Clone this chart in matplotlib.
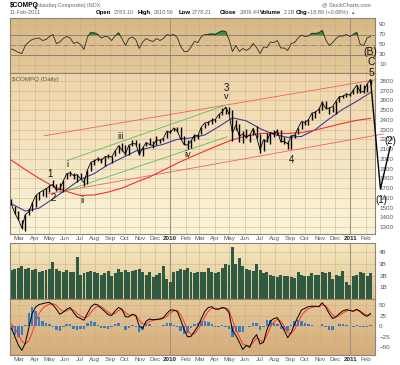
import numpy as np
import pandas as pd
import matplotlib
matplotlib.use("Agg")
import matplotlib.pyplot as plt
import matplotlib.dates as mdates
from matplotlib.colors import LinearSegmentedColormap

plt.rcParams["font.family"] = ["Liberation Sans", "DejaVu Sans"]

# weekly samples, Fridays from 13-Feb-2009 to 11-Feb-2011
weeks = pd.date_range("2009-02-13", periods=105, freq="7D")

closes = [1534, 1441, 1377, 1293, 1431, 1457, 1545, 1622, 1652, 1673, 1694, 1719, 1739, 1680, 1692,
          1774, 1849, 1858, 1827, 1838, 1797, 1756, 1886, 1966, 1979, 2000, 1985, 2020, 2028, 2018,
          2080, 2132, 2090, 2048, 2140, 2156, 2154, 2045, 2112, 2167, 2147, 2138, 2194, 2190, 2212,
          2285, 2269, 2317, 2288, 2205, 2147, 2142, 2184, 2243, 2238, 2327, 2368, 2374, 2395, 2402,
          2454, 2481, 2530, 2461, 2265, 2347, 2229, 2257, 2219, 2244, 2310, 2224, 2092, 2196, 2179,
          2269, 2255, 2288, 2174, 2180, 2153, 2234, 2242, 2316, 2382, 2371, 2402, 2469, 2479, 2507,
          2578, 2519, 2519, 2535, 2592, 2637, 2642, 2665, 2653, 2704, 2755, 2689, 2687, 2769, 2809]
highs = [1590, 1520, 1470, 1377, 1435, 1500, 1560, 1625, 1660, 1680, 1700, 1730, 1785, 1740, 1750,
         1780, 1855, 1877, 1860, 1845, 1860, 1800, 1890, 1970, 2000, 2020, 2010, 2025, 2050, 2030,
         2090, 2140, 2165, 2145, 2145, 2190, 2190, 2160, 2120, 2175, 2210, 2185, 2230, 2200, 2215,
         2285, 2295, 2320, 2325, 2326, 2230, 2195, 2190, 2250, 2250, 2330, 2370, 2390, 2420, 2410,
         2455, 2520, 2535, 2535, 2500, 2395, 2360, 2290, 2310, 2250, 2320, 2335, 2250, 2200, 2260,
         2275, 2300, 2305, 2300, 2220, 2185, 2240, 2250, 2320, 2385, 2400, 2405, 2470, 2490, 2520,
         2590, 2592, 2530, 2545, 2595, 2640, 2650, 2670, 2672, 2720, 2757, 2765, 2755, 2770, 2812]
lows = [1525, 1431, 1377, 1282, 1265, 1420, 1470, 1510, 1580, 1615, 1605, 1660, 1712, 1672, 1678,
        1660, 1790, 1825, 1791, 1765, 1795, 1727, 1740, 1880, 1940, 1980, 1960, 1925, 2005, 1960,
        2025, 2065, 2080, 2040, 2040, 2135, 2130, 2040, 2025, 2130, 2140, 2110, 2140, 2160, 2180,
        2215, 2265, 2290, 2280, 2200, 2140, 2100, 2115, 2185, 2200, 2250, 2320, 2345, 2360, 2380,
        2420, 2450, 2460, 2455, 2185, 2300, 2175, 2165, 2210, 2170, 2240, 2210, 2061, 2085, 2175,
        2150, 2220, 2245, 2170, 2150, 2100, 2100, 2210, 2250, 2310, 2350, 2345, 2400, 2420, 2470,
        2500, 2510, 2460, 2480, 2460, 2585, 2620, 2635, 2645, 2660, 2680, 2680, 2680, 2690, 2765]

# moving averages, every fourth week
ma_dates = weeks[::4]
ma50 = [1540, 1465, 1495, 1590, 1690, 1790, 1850, 1940, 2010, 2080, 2115, 2150, 2200, 2215,
        2245, 2330, 2420, 2390, 2310, 2250, 2220, 2230, 2300, 2410, 2510, 2590, 2680]
ma200 = [1985, 1890, 1800, 1720, 1665, 1625, 1630, 1660, 1700, 1760, 1815, 1885, 1955, 2020,
         2080, 2140, 2195, 2235, 2260, 2265, 2260, 2270, 2295, 2330, 2365, 2395, 2415]

rsi = [41, 38, 34, 32, 48, 55, 60, 62, 63, 58, 60, 66, 70, 52, 55, 62, 66, 63, 52, 55, 50, 40, 65,
       74, 73, 70, 63, 66, 65, 58, 67, 73, 62, 48, 62, 65, 60, 42, 55, 62, 58, 56, 62, 58, 62, 70,
       68, 70, 64, 46, 36, 36, 45, 56, 54, 66, 70, 70, 71, 70, 74, 77, 76, 60, 36, 48, 36, 42, 38,
       42, 52, 44, 32, 45, 44, 55, 54, 58, 43, 43, 38, 52, 54, 63, 69, 66, 67, 72, 72, 73, 78, 60,
       48, 54, 62, 67, 67, 70, 66, 70, 74, 50, 48, 63, 66]

volume = [2.5, 2.6, 2.7, 2.8, 2.6, 2.7, 2.5, 2.6, 2.3, 2.4, 2.5, 2.6, 3.2, 2.6, 2.4, 2.3, 2.5, 2.3,
          2.3, 3.6, 2.1, 2.2, 2.3, 2.4, 2.3, 2.2, 2.1, 2.2, 2.4, 2.0, 2.2, 2.6, 2.3, 2.5, 2.3, 2.4,
          2.5, 2.6, 2.3, 2.1, 2.3, 1.9, 2.1, 2.2, 2.85, 1.7, 1.5, 2.3, 2.4, 2.6, 2.5, 2.7, 2.3, 2.2,
          2.3, 2.3, 2.3, 2.7, 2.3, 2.2, 2.3, 2.7, 3.0, 2.9, 4.5, 3.0, 3.5, 2.8, 2.6, 2.5, 2.4, 3.0,
          2.5, 2.2, 2.3, 2.1, 2.0, 1.9, 2.1, 2.0, 2.0, 1.9, 1.8, 2.3, 2.1, 2.0, 2.0, 2.2, 2.1, 2.1,
          2.3, 2.2, 2.3, 1.7, 2.1, 2.0, 2.4, 1.5, 1.2, 2.0, 2.1, 2.3, 2.2, 2.0, 2.2]

macd = [-5, -25, -45, -57, -40, -5, 30, 45, 51, 53, 55, 56, 50, 40, 28, 33, 40, 44, 32, 22, 18, 14,
        30, 45, 52, 50, 42, 35, 27, 25, 36, 44, 40, 22, 22, 28, 25, 0, -5, 12, 17, 15, 16, 17, 20,
        30, 38, 38, 35, 15, -8, -25, -24, -12, 0, 18, 35, 44, 46, 40, 40, 44, 42, 32, -10, -22, -38,
        -55, -45, -50, -30, -20, -42, -38, -8, 12, 18, 20, 5, -10, -27, -15, 5, 22, 38, 42, 46, 47,
        47, 46, 55, 45, 30, 18, 22, 30, 36, 39, 37, 35, 40, 34, 27, 23, 30]
signal = [5, -5, -20, -35, -42, -35, -15, 10, 30, 42, 48, 52, 53, 49, 40, 35, 36, 40, 38, 30, 24,
          20, 22, 32, 42, 47, 46, 40, 33, 28, 30, 37, 39, 32, 26, 26, 26, 14, 5, 6, 11, 14, 15, 16,
          18, 23, 31, 36, 37, 27, 10, -10, -20, -18, -8, 6, 22, 35, 42, 42, 41, 42, 43, 38, 15, -8,
          -25, -42, -46, -47, -38, -28, -33, -37, -22, -2, 10, 16, 12, 0, -15, -18, -8, 8, 25, 35,
          41, 44, 46, 46, 50, 48, 38, 26, 22, 25, 31, 36, 37, 36, 38, 36, 30, 26, 27]
hist = np.array(macd) - np.array(signal)

# trendlines (start, end)
red_upper = (["2009-04-20", "2011-02-22"], [2236, 2812])
red_lower = (["2009-04-28", "2011-03-10"], [1642, 2256])
green_upper = (["2009-06-06", "2010-04-22"], [1984, 2548])
green_lower = (["2009-05-22", "2010-04-26"], [1652, 2226])
forecast = (["2011-02-11", "2011-03-03", "2011-03-23"], [2809, 1692, 2125])

wave_labels = [("1", "2009-05-02", 1843, 7), ("2", "2009-05-08", 1602, 7),
               ("i", "2009-06-06", 1941, 6.5), ("ii", "2009-07-06", 1571, 6.5),
               ("iii", "2009-09-23", 2226, 6.5), ("iv", "2010-02-06", 2045, 6.5),
               ("3", "2010-04-24", 2730, 7), ("v", "2010-04-25", 2640, 6.5),
               ("4", "2010-09-03", 1984, 7), ("5", "2011-02-13", 2880, 7.5),
               ("C", "2011-02-13", 2991, 7.5), ("(B)", "2011-02-11", 3092, 7.5),
               ("(2)", "2011-03-24", 2186, 7), ("(1)", "2011-03-05", 1582, 7)]

month_starts = pd.date_range("2009-03-01", "2011-02-01", freq="MS")
month_labels = [d.strftime("%Y") if d.month == 1 else d.strftime("%b") for d in month_starts]

fig = plt.figure(figsize=(4, 3.65), dpi=100)
L, W = 10 / 400, 365 / 400
ax_rsi = fig.add_axes([L, 1 - 73 / 365, W, 55 / 365])
ax_main = fig.add_axes([L, 1 - 234 / 365, W, 161 / 365])
ax_vol = fig.add_axes([L, 1 - 299 / 365, W, 56 / 365])
ax_macd = fig.add_axes([L, 1 - 355 / 365, W, 56 / 365])


def panel_bg(ax, top, bottom):
    cm = LinearSegmentedColormap.from_list("bg", [bottom, top])
    ax.imshow(np.linspace(0, 1, 64).reshape(-1, 1), cmap=cm, origin="lower", extent=[0, 1, 0, 1],
              transform=ax.transAxes, aspect="auto", zorder=0)


x0, x1 = mdates.date2num(pd.Timestamp("2009-02-10")), mdates.date2num(pd.Timestamp("2011-02-20"))
tick_col = "#555555"
for ax, (top, bottom) in zip([ax_rsi, ax_main, ax_vol, ax_macd],
                             [("#d8b887", "#e4c99a"), ("#efd5aa", "#fbf4d9"),
                              ("#f6e8c0", "#e0c594"), ("#e6c898", "#d5ad7b")]):
    panel_bg(ax, top, bottom)
    ax.set_xticks(month_starts)
    ax.set_xticklabels(month_labels)
    ax.grid(True, color="#c4ab84", lw=0.45, alpha=0.7)
    ax.set_axisbelow(True)
    ax.yaxis.tick_right()
    ax.tick_params(length=0, labelsize=4.5, labelcolor=tick_col, pad=3)
    for s in ax.spines.values():
        s.set_color("#8f8372")
        s.set_linewidth(0.8)
    for d in month_starts:
        if d.month == 1:
            ax.axvline(d, color="#a09482", lw=0.8, zorder=1)

for ax in (ax_rsi, ax_vol):
    ax.tick_params(axis="x", labelbottom=False)
for ax in (ax_main, ax_macd):
    ax.tick_params(axis="x", pad=1.5)
    for lab in ax.get_xticklabels():
        if lab.get_text().isdigit():
            lab.set_fontweight("bold")
            lab.set_color("#222222")

# RSI
ax_rsi.plot(weeks, rsi, color="#2a2a2a", lw=0.6, zorder=3)
rsi_arr = np.array(rsi)
ax_rsi.fill_between(weeks, rsi_arr, 70, where=rsi_arr > 70, interpolate=True, color="#3d8f3a", zorder=2)
ax_rsi.axhline(70, color="#8a8277", lw=0.7, zorder=1)
ax_rsi.axhline(30, color="#8a8277", lw=0.7, zorder=1)
ax_rsi.axhline(50, color="#8a8277", lw=0.6, ls="-.", zorder=1)
ax_rsi.set_yticks([10, 30, 50, 70, 90])
ax_rsi.set_ylim(-7, 103)

# price
ax_main.vlines(weeks, lows, highs, color="black", lw=1.0, zorder=4)
ax_main.plot(weeks, closes, color="black", lw=0.6, zorder=4)
ax_main.plot(ma_dates, ma50, color="#3c3c9c", lw=0.8, zorder=3)
ax_main.plot(ma_dates, ma200, color="#ee3030", lw=0.8, zorder=3)
for (dts, vals), col in [(red_upper, "#f06060"), (red_lower, "#f06060"),
                         (green_upper, "#5cbf5c"), (green_lower, "#5cbf5c")]:
    ax_main.plot(pd.to_datetime(dts), vals, color=col, lw=0.6, zorder=2, clip_on=False)
ax_main.plot(pd.to_datetime(forecast[0]), forecast[1], color="black", lw=1.0, zorder=5, clip_on=False)
for txt, d, v, fs in wave_labels:
    ax_main.text(pd.Timestamp(d), v, txt, fontsize=fs, color="#111111", ha="center", va="center",
                 clip_on=False, zorder=6)
ax_main.set_yticks(range(1300, 2900, 100))
ax_main.set_ylim(1230, 2880)
ax_main.text(0.005, 0.975, "$COMPQ (Daily)", transform=ax_main.transAxes, fontsize=4.5,
             color="#555555", va="top")

# volume
ax_vol.bar(weeks, volume, width=6, color="#2f5a42", zorder=2)
ax_vol.set_yticks([1, 2, 3, 4])
ax_vol.set_yticklabels(["1B", "2B", "3B", "4B"])
ax_vol.set_ylim(0, 4.8)

# MACD
ax_macd.bar(weeks, hist, width=5, color="#3a7cc4", zorder=2)
ax_macd.plot(weeks, signal, color="#ff3030", lw=0.7, zorder=3)
ax_macd.plot(weeks, macd, color="black", lw=0.7, zorder=4)
ax_macd.set_yticks([-50, -25, 0, 25, 50])
ax_macd.set_ylim(-68, 64)

for ax in (ax_rsi, ax_main, ax_vol, ax_macd):
    ax.set_xlim(x0, x1)

# header
def px(x, y):
    return x / 400, 1 - y / 365

fig.text(*px(10, 5.5), "$COMPQ", fontsize=4.8, fontweight="bold", va="center")
fig.text(*px(35, 5.5), "(Nasdaq Composite) INDX", fontsize=4.0, color="#666666", va="center")
fig.text(*px(10, 12.5), "11-Feb-2011", fontsize=4.0, color="#666666", va="center")
fig.text(*px(322, 5), "@ StockCharts.com", fontsize=4.0, color="#666666", va="center")
header = [(96, "Open", True), (114, "2783.10", False), (138, "High", True), (154, "2810.56", False),
          (179, "Low", True), (192, "2778.21", False), (220, "Close", True), (240, "2809.44", False),
          (260, "Volume", True), (284, "2.1B", False), (296, "Chg", True),
          (307, "+18.89 (+0.68%)", False)]
for x, s, b in header:
    fig.text(*px(x, 12.5), s, fontsize=4.3 if b else 4.0, fontweight="bold" if b else "normal",
             color="black" if b else "#666666", va="center")
fig.text(*px(350, 12.5), "\u25b2", fontsize=3.2, color="#2a8a2a", va="center")

fig.savefig("out.png", dpi=100)
